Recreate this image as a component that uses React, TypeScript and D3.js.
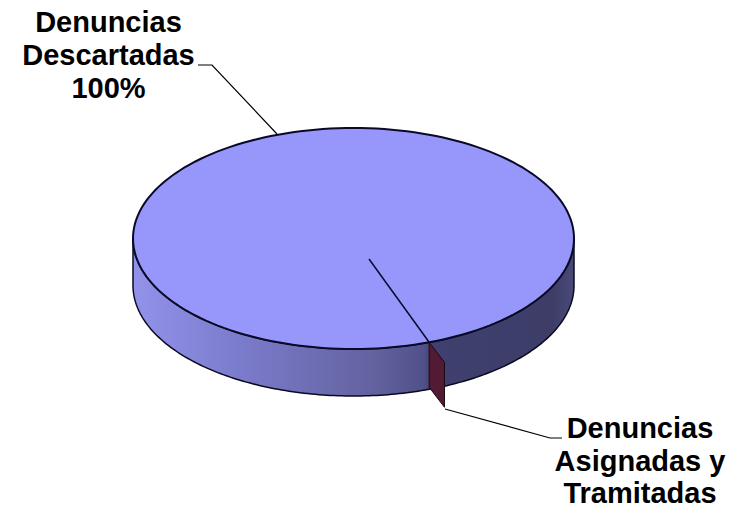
import React from "react";
import * as d3 from "d3";

const categories = ["Denuncias Descartadas", "Denuncias Asignadas y Tramitadas"];
const shares = [100, 0.6];
const labelA = ["Denuncias", "Descartadas", "100%"];
const labelB = ["Denuncias", "Asignadas y", "Tramitadas"];

const W = 736, H = 506;
const cx = 353.5, cy = 238.5, rx = 220.5, ry = 110.5, depth = 47;

const x = d3.scaleLinear().domain([-1, 1]).range([cx - rx, cx + rx]);
const y = d3.scaleLinear().domain([-1, 1]).range([cy - ry, cy + ry]);
const deg = Math.PI / 180;

const arcs = d3.pie<number>().sort(null).startAngle(161 * deg).endAngle(521 * deg)(shares);
const toXY = (theta: number, r = 1): [number, number] => [x(Math.sin(theta) * r), y(-Math.cos(theta) * r)];

const ellipseArc = (a0: number, a1: number, dy: number) =>
  d3.range(0, 181).map((i) => {
    const a = a0 + ((a1 - a0) * i) / 180;
    return [x(Math.cos(a)), y(Math.sin(a)) + dy] as [number, number];
  });
const line = d3.line();

export default function App() {
  const top = line(ellipseArc(0, Math.PI * 2, 0)) + "Z";
  const side = line([...ellipseArc(0, Math.PI, 0), ...ellipseArc(Math.PI, 0, depth)]) + "Z";
  const mid = (arcs[1].startAngle + arcs[1].endAngle) / 2;
  const rim = toXY(mid);
  const inner: [number, number] = [369, 259];
  const outer: [number, number] = [rim[0] + 15.3, rim[1] + 20];
  const wall: [number, number][] = [rim, outer, [outer[0], outer[1] + 45], [rim[0], rim[1] + 45]];
  return (
    <svg width={W} height={H} viewBox={`0 0 ${W} ${H}`} style={{ position: "fixed", left: 0, top: 0, background: "#fff" }}
      fontFamily="'Liberation Sans', Arial, sans-serif" fontWeight="bold" fontSize={29} fill="#000">
      <title>{categories.join(" / ")}</title>
      <defs>
        <linearGradient id="side" gradientUnits="userSpaceOnUse" x1={133} x2={574} y1={0} y2={0}>
          <stop offset="0" stopColor="#9292ec" />
          <stop offset="0.3" stopColor="#7676c4" />
          <stop offset="0.55" stopColor="#62629f" />
          <stop offset="0.66" stopColor="#50508a" />
          <stop offset="0.68" stopColor="#404070" />
          <stop offset="0.95" stopColor="#3d3d68" />
          <stop offset="1" stopColor="#4a4a7a" />
        </linearGradient>
      </defs>
      <path d={side} fill="url(#side)" stroke="#0a0a20" strokeWidth={1.5} />
      <path d={top} fill="#9696fb" stroke="#0a0a28" strokeWidth={2} />
      <path d={line(wall) + "Z"} fill="#531a33" stroke="#1a0a14" strokeWidth={1} />
      <path d={line([inner, rim])!} fill="none" stroke="#0a0a28" strokeWidth={1.5} />
      <polyline points="198,65 212,65 277,134" fill="none" stroke="#000" strokeWidth={1.2} />
      <polyline points="445,409 550,438 562,438" fill="none" stroke="#000" strokeWidth={1.2} />
      {labelA.map((t, i) => (
        <text key={i} x={108.5} y={32 + i * 33} textAnchor="middle">{t}</text>
      ))}
      {labelB.map((t, i) => (
        <text key={i} x={640} y={438 + i * 32.5} textAnchor="middle">{t}</text>
      ))}
    </svg>
  );
}
